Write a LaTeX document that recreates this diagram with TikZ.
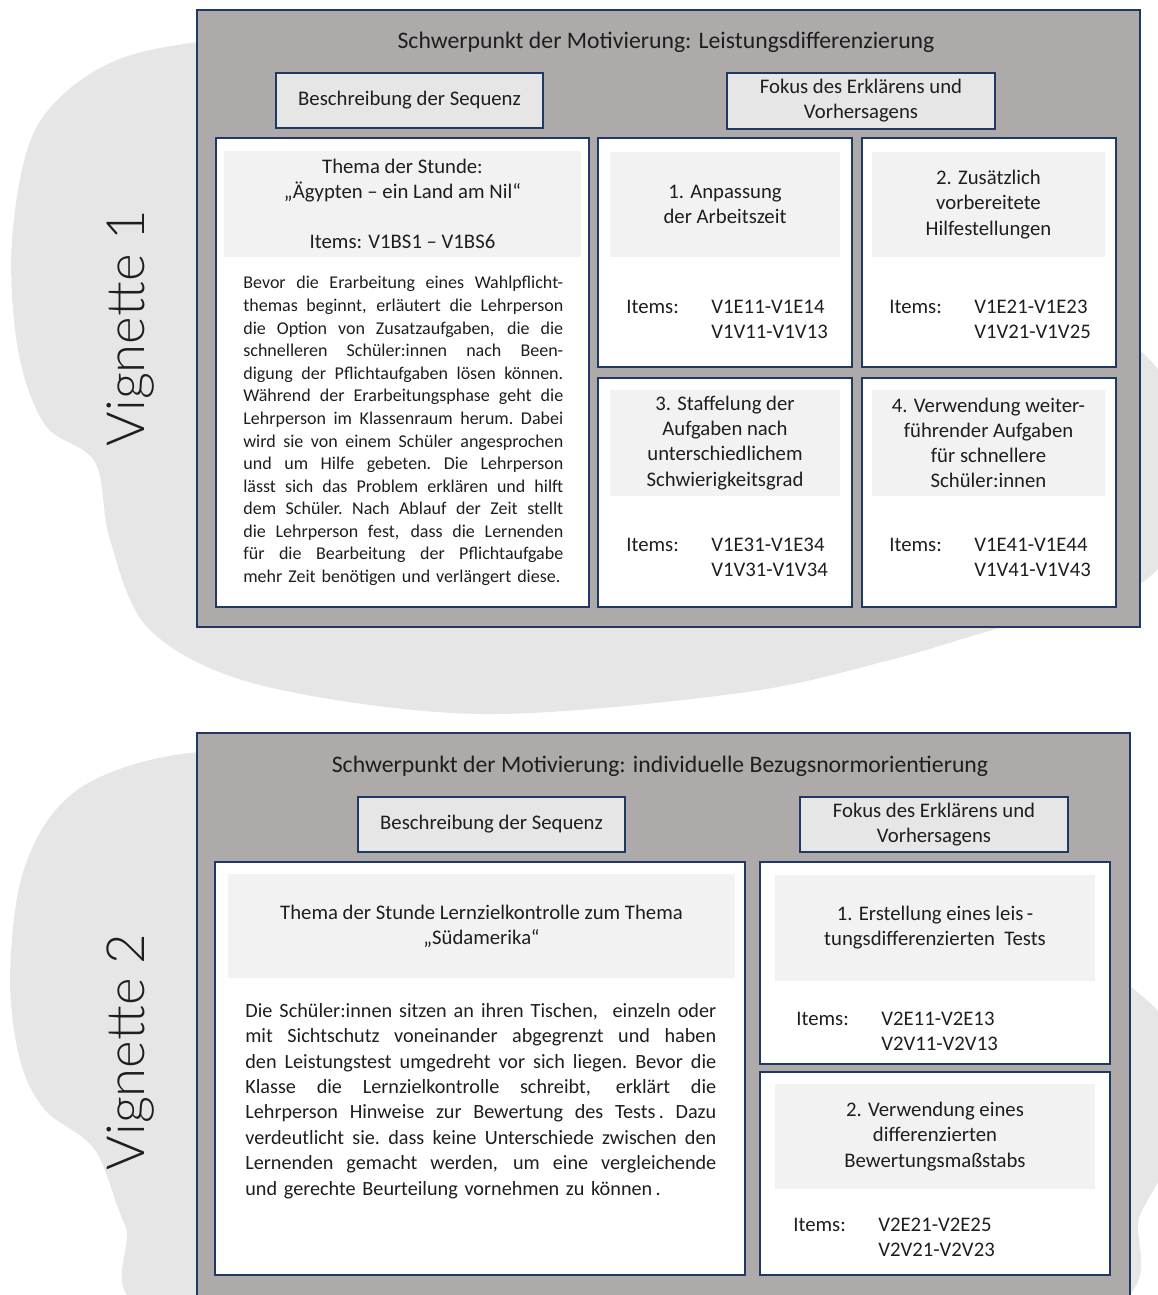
\documentclass[tikz,border=0pt]{standalone}
\usepackage{fontspec}
\setmainfont{Carlito}
\IfFontExistsTF{Lato Light}
  {\newfontfamily\vigfont{Lato Light}}
  {\IfFontExistsTF{Fira Sans Light}
     {\newfontfamily\vigfont{Fira Sans Light}}
     {\newfontfamily\vigfont{Carlito}}}
\definecolor{navy}{HTML}{1F3864}
\definecolor{panelgray}{HTML}{AEAAAA}
\definecolor{tabgray}{HTML}{E7E6E6}
\definecolor{headgray}{HTML}{F2F2F2}
\definecolor{blobgray}{HTML}{E6E6E6}
\definecolor{ink}{HTML}{1E1E1E}

\newcommand\txtsize{\fontsize{11.8}{14.3}\selectfont}
\newcommand\ttlsize{\fontsize{13.5}{16}\selectfont}
\newcommand\bodyA{\fontsize{10.25}{12.86}\selectfont}
\newcommand\bodyB{\fontsize{11.5}{14.45}\selectfont}
\newcommand\vigsize{\vigfont\fontsize{30}{36}\selectfont}

% a rectangle given by its corners (x1,y1) and (x2,y2)
\newcommand\mkbox[7]{%
  \pgfmathsetmacro\bw{(#4-#2)*0.02}%
  \pgfmathsetmacro\bh{(#5-#3)*0.02}%
  \node[#6, minimum width=\bw cm, minimum height=\bh cm, anchor=north west] (#1) at (#2,#3) {#7};}

% justified lines of the two descriptions: the word spaces take up the slack
\newcommand\stretchspaces{\spaceskip=0.22em plus 1fil minus 0.05em\xspaceskip=\spaceskip}
\newcommand\jla[1]{\hbox to 6.4cm{\stretchspaces #1}}
\newcommand\jlb[1]{\hbox to 9.42cm{\stretchspaces #1}}
% item codes below each focus
\newcommand\itemlist[2]{\begin{tabular}[t]{@{}p{1.7cm}@{}l@{}}Items:&#1\\&#2\end{tabular}}

\begin{document}
\begin{tikzpicture}[x=0.02cm, y=-0.02cm,
  panel/.style={draw=navy, line width=1.3pt, fill=panelgray, inner sep=0, outer sep=0},
  tab/.style={draw=navy, line width=1.3pt, fill=tabgray, inner sep=0, outer sep=0,
              align=center, font=\txtsize, text=ink},
  card/.style={draw=navy, line width=1.3pt, fill=white, inner sep=0, outer sep=0},
  head/.style={fill=headgray, inner sep=0, outer sep=0, align=center, font=\txtsize, text=ink},
  title/.style={font=\ttlsize, text=ink, inner sep=0},
  items/.style={anchor=base west, inner sep=0, font=\txtsize, text=ink},
  vig/.style={rotate=90, font=\vigsize, text=ink, inner sep=0},
  blob/.style={fill=blobgray}]

\useasboundingbox (0,0) rectangle (1157,1295);

% soft background shapes
\fill[blob] plot[smooth cycle, tension=0.55] coordinates {
  (420,22) (197,42) (100,68) (35,130) (12,240) (18,350) (45,425) (95,462)
  (110,540) (150,630) (260,685) (480,714) (740,693) (890,660) (1000,628)
  (1100,605) (1165,560) (1190,470) (1170,390) (1140,350) (1080,300) (800,150)};
\fill[blob] plot[smooth cycle, tension=0.55] coordinates {
  (420,740) (197,752) (100,777) (50,817) (20,883) (10,980) (20,1060) (45,1110)
  (95,1150) (125,1225) (175,1320) (700,1340) (1100,1310) (1140,1215)
  (1170,1160) (1188,1100) (1172,1030) (1135,990) (1080,950) (800,780)};

% vignette labels
\node[vig] (v1) at (131,328) {Vignette 1};
\node[vig] (v2) at (131,1052) {Vignette 2};

% ---------------- Vignette 1 ----------------
\mkbox{p1}{197}{10}{1140}{627}{panel}{}
\node[title] (t1) at (666,42) {Schwerpunkt der Motivierung: Leistungsdifferenzierung};
\mkbox{s1}{276}{73}{543}{128}{tab}{Beschreibung der Sequenz}
\mkbox{f1}{727}{73}{995}{129}{tab}{Fokus des Erklärens und\\Vorhersagens}

\mkbox{l1}{216}{138}{589}{607}{card}{}
\mkbox{h1}{224}{151}{581}{257}{head}{Thema der Stunde:\\„Ägypten – ein Land am Nil“\\\mbox{}\\Items: V1BS1 – V1BS6}
\node[anchor=north west, inner sep=0, text width=6.4cm, font=\bodyA, text=ink] (d1) at (243,276) {%
\jla{Bevor die Erarbeitung eines Wahlpflicht-}
\jla{themas beginnt, erläutert die Lehrperson}
\jla{die Option von Zusatzaufgaben, die die}
\jla{schnelleren Schüler:innen nach Been-}
\jla{digung der Pflichtaufgaben lösen können.}
\jla{Während der Erarbeitungsphase geht die}
\jla{Lehrperson im Klassenraum herum. Dabei}
\jla{wird sie von einem Schüler angesprochen}
\jla{und um Hilfe gebeten. Die Lehrperson}
\jla{lässt sich das Problem erklären und hilft}
\jla{dem Schüler. Nach Ablauf der Zeit stellt}
\jla{die Lehrperson fest, dass die Lernenden}
\jla{für die Bearbeitung der Pflichtaufgabe}
\hbox{mehr Zeit benötigen und verlängert diese.}};

\mkbox{q1}{598}{138}{852}{367}{card}{}
\mkbox{q1h}{610}{152}{840}{257}{head}{1. Anpassung\\der Arbeitszeit}
\node[items] (q1i) at (626,313) {\itemlist{V1E11-V1E14}{V1V11-V1V13}};

\mkbox{q2}{862}{138}{1116}{367}{card}{}
\mkbox{q2h}{872}{152}{1105}{257}{head}{2. Zusätzlich\\vorbereitete\\Hilfestellungen}
\node[items] (q2i) at (889,313) {\itemlist{V1E21-V1E23}{V1V21-V1V25}};

\mkbox{q3}{598}{378}{852}{607}{card}{}
\mkbox{q3h}{610}{390}{840}{496}{head}{3. Staffelung der\\Aufgaben nach\\unterschiedlichem\\Schwierigkeitsgrad}
\node[items] (q3i) at (626,551) {\itemlist{V1E31-V1E34}{V1V31-V1V34}};

\mkbox{q4}{862}{378}{1116}{607}{card}{}
\mkbox{q4h}{872}{390}{1105}{496}{head}{4. Verwendung weiter-\\führender Aufgaben\\für schnellere\\Schüler:innen}
\node[items] (q4i) at (889,551) {\itemlist{V1E41-V1E44}{V1V41-V1V43}};

% ---------------- Vignette 2 ----------------
\mkbox{p2}{197}{733}{1130}{1320}{panel}{}
\node[title] (t2) at (660,766) {Schwerpunkt der Motivierung: individuelle Bezugsnormorientierung};
\mkbox{s2}{358}{797}{625}{852}{tab}{Beschreibung der Sequenz}
\mkbox{f2}{800}{797}{1068}{852}{tab}{Fokus des Erklärens und\\Vorhersagens}

\mkbox{l2}{215}{862}{745}{1275}{card}{}
\mkbox{h2}{228}{874}{735}{978}{head}{Thema der Stunde Lernzielkontrolle zum Thema\\„Südamerika“}
\node[anchor=north west, inner sep=0, text width=9.42cm, font=\bodyB, text=ink] (d2) at (245,1003) {%
\jlb{Die Schüler:innen sitzen an ihren Tischen, \ einzeln oder}
\jlb{mit Sichtschutz voneinander abgegrenzt und haben}
\jlb{den Leistungstest umgedreht vor sich liegen. Bevor die}
\jlb{Klasse die Lernzielkontrolle schreibt, erklärt die}
\jlb{Lehrperson Hinweise zur Bewertung des Tests\,. Dazu}
\jlb{verdeutlicht sie. dass keine Unterschiede zwischen den}
\jlb{Lernenden gemacht werden, um eine vergleichende}
\hbox{und gerechte Beurteilung vornehmen zu können\,.}};

\mkbox{q5}{760}{862}{1110}{1064}{card}{}
\mkbox{q5h}{775}{875}{1095}{981}{head}{1. Erstellung eines leis\,-\\tungsdifferenzierten \ Tests}
\node[items] (q5i) at (796,1025) {\itemlist{V2E11-V2E13}{V2V11-V2V13}};

\mkbox{q6}{760}{1072}{1110}{1275}{card}{}
\mkbox{q6h}{775}{1084}{1095}{1189}{head}{2. Verwendung eines\\differenzierten\\Bewertungsmaßstabs}
\node[items] (q6i) at (793,1231) {\itemlist{V2E21-V2E25}{V2V21-V2V23}};

\end{tikzpicture}
\end{document}
